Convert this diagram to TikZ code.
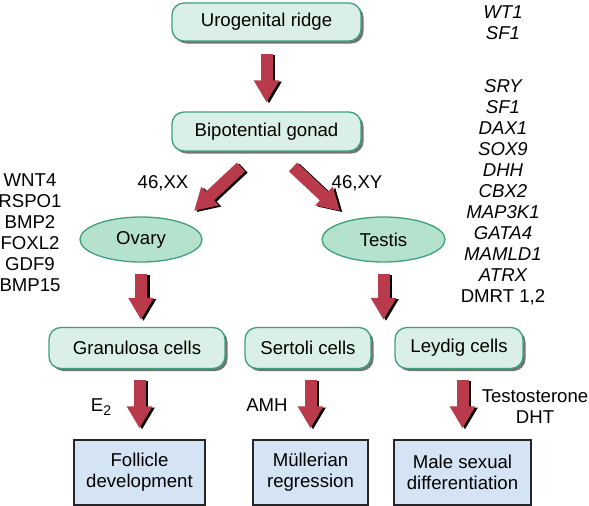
\documentclass[tikz,border=0pt]{standalone}
\usepackage{fontspec}
\setmainfont{Liberation Sans}
\usetikzlibrary{arrows.meta,shadows,shapes.geometric}
\definecolor{mint}{HTML}{DAF0E7}
\definecolor{gborder}{HTML}{3E9F7D}
\definecolor{ellfill}{HTML}{B4E2CD}
\definecolor{bluefill}{HTML}{D4E4F4}
\definecolor{arrowred}{HTML}{B83A4B}
\newcommand\fatarrow[3][]{%
  \draw[fat,draw=black,transform canvas={xshift=2.5pt,yshift=-1.2pt},#1] #2 -- #3;
  \draw[fat,#1] #2 -- #3;}
\begin{document}
\begin{tikzpicture}[x=1pt,y=-1pt,
  txt/.style={font=\fontsize{18.6}{21}\selectfont, inner sep=0pt, align=center},
  gbox/.style={txt, draw=gborder, fill=mint, line width=1.3pt, rounded corners=12pt,
    drop shadow={shadow xshift=2.5pt,shadow yshift=-2.5pt,fill=black!55,opacity=1}},
  gell/.style={txt, ellipse, draw=gborder, fill=ellfill, line width=1.3pt,
    minimum width=122pt, minimum height=45pt},
  bbox/.style={txt, draw=black!85, fill=bluefill, line width=1.2pt,
    minimum height=65pt,
    drop shadow={shadow xshift=1.2pt,shadow yshift=-1.2pt,fill=black!50,opacity=1}},
  gene/.style={txt, font=\fontsize{18.6}{21}\selectfont\itshape},
  fat/.style={line width=12pt, draw=arrowred, -{Triangle[length=22pt,width=24pt]}}
]
\useasboundingbox (0,0) rectangle (589,506);

% green boxes
\node[gbox, minimum width=189pt, minimum height=38pt] (ridge) at (266.5,22) {Urogenital ridge};
\node[gbox, minimum width=189pt, minimum height=39pt] (gonad) at (266.5,131.5) {Bipotential gonad};
\node[gell] (ovary) at (141,239.5) {Ovary};
\node[gell, minimum width=123pt] (testis) at (383.5,239.5) {Testis};
\node[gbox, minimum width=176pt, minimum height=41pt] (gran) at (137,348) {Granulosa cells};
\node[gbox, minimum width=126pt, minimum height=41pt] (sert) at (308,348) {Sertoli cells};
\node[gbox, minimum width=128pt, minimum height=41pt] (leyd) at (459,348) {Leydig cells};

% blue boxes
\node[bbox, minimum width=131pt] (foll) at (139.5,472.5) {Follicle\\development};
\node[bbox, minimum width=115pt] (mull) at (310.5,472.5) {Müllerian\\regression};
\node[bbox, minimum width=137pt] (male) at (462.5,472.5) {Male sexual\\differentiation};

% labels
\node[txt] (xx) at (163,183) {46,XX};
\node[txt] (xy) at (357,183) {46,XY};
\node[txt] (e2) at (101,407) {E\raisebox{-4pt}{\fontsize{14}{14}\selectfont 2}};
\node[txt] (amh) at (267,405) {AMH};
\node[txt] (testo) at (535,407) {Testosterone\\DHT};

% gene lists
\node[txt] (genesl) at (30,232.5) {WNT4\\RSPO1\\BMP2\\FOXL2\\GDF9\\BMP15};
\node[gene] (genest) at (503,22.5) {WT1\\SF1};
\node[gene] (genesr) at (503,192) {SRY\\SF1\\DAX1\\SOX9\\DHH\\CBX2\\MAP3K1\\GATA4\\MAMLD1\\ATRX\\\upshape DMRT 1,2};

% arrows
\coordinate (xxs) at (241,167);
\coordinate (xxe) at (194,211);
\coordinate (xys) at (293,167);
\coordinate (xye) at (340,211);
\fatarrow[shorten <=12pt,shorten >=9pt]{(ridge.south)}{(gonad.north)}
\fatarrow{(xxs)}{(xxe)}
\fatarrow{(xys)}{(xye)}
\fatarrow[shorten <=11pt,shorten >=7pt]{(ovary.south)}{(ovary.south |- gran.north)}
\fatarrow[shorten <=11pt,shorten >=7pt]{(testis.south)}{(testis.south |- sert.north)}
\fatarrow[shorten <=11pt,shorten >=11pt]{(foll.north |- gran.south)}{(foll.north)}
\fatarrow[shorten <=11pt,shorten >=11pt]{(mull.north |- sert.south)}{(mull.north)}
\fatarrow[shorten <=11pt,shorten >=11pt]{(male.north |- leyd.south)}{(male.north)}
\end{tikzpicture}
\end{document}
